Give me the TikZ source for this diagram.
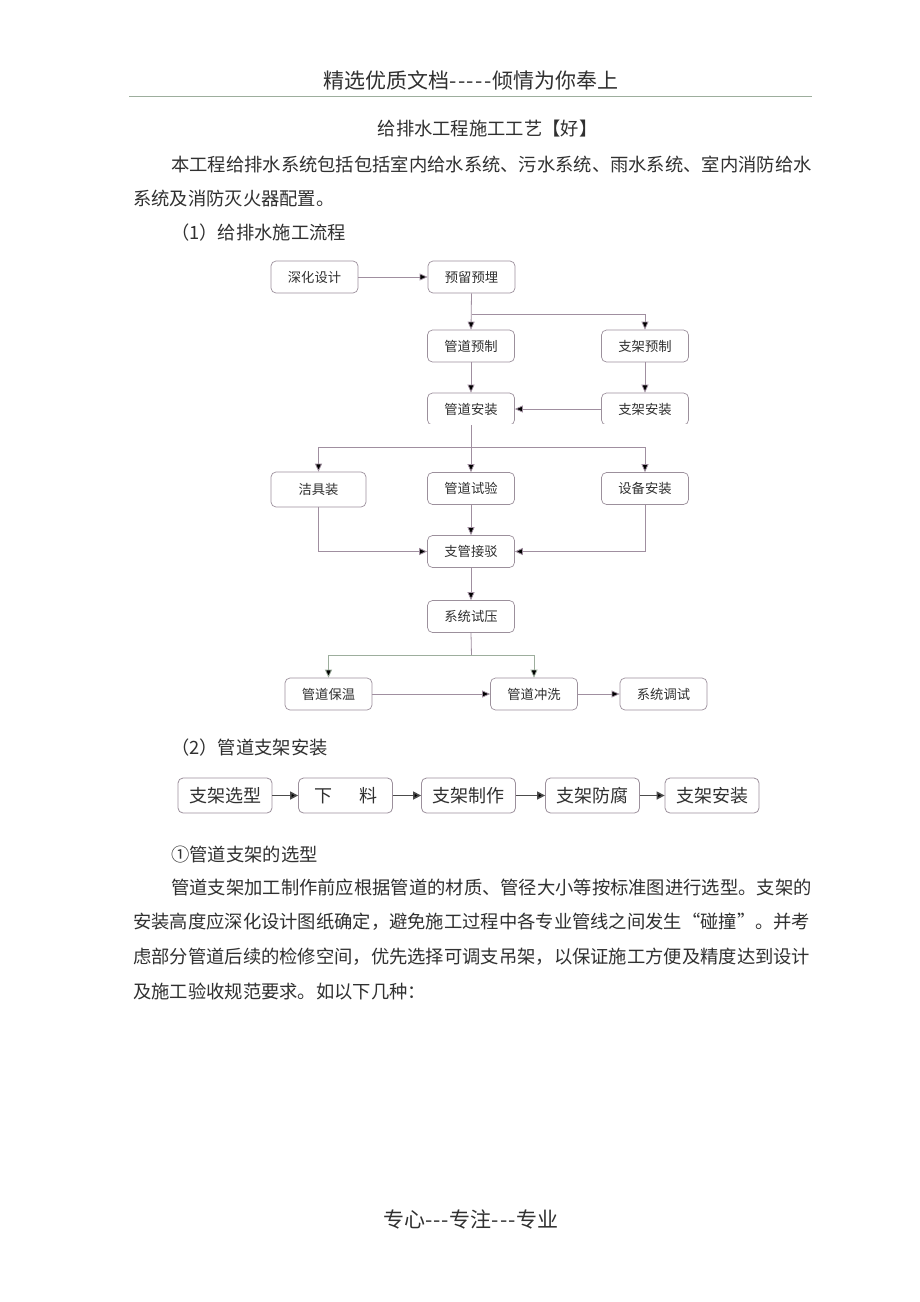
\documentclass[tikz,border=0pt]{standalone}
\usepackage{fontspec}
\setmainfont{Noto Sans CJK SC}
\usetikzlibrary{arrows.meta,calc}
\definecolor{boxc}{HTML}{9C909C}
\definecolor{linec}{HTML}{A08FA0}
\definecolor{greenc}{HTML}{9DAE9D}
\definecolor{txt}{HTML}{303030}
\newcommand{\fsz}[1]{\fontsize{#1pt}{#1pt}\selectfont}
\tikzset{
  x=1pt,y=-1pt,
  boxa/.style={draw=boxc,line width=0.7pt,rounded corners=5pt,inner sep=0pt,minimum width=87pt,minimum height=32pt,text=txt,font=\fsz{13.3}},
  boxb/.style={draw=boxc,line width=0.8pt,rounded corners=5pt,inner sep=0pt,minimum width=94pt,minimum height=35pt,text=txt,font=\fsz{18}},
  link/.style={draw=linec,line width=0.8pt},
  flow/.style={link,-{Triangle[length=8pt,width=7pt,fill=black]}},
  flowb/.style={draw=black!70,line width=1.5pt,-{Triangle[length=8pt,width=8pt,fill=black]}},
  para/.style={anchor=base west,inner sep=0pt,text=txt,font=\fsz{18.3}},
  ctr/.style={anchor=base,inner sep=0pt,text=txt},
}
\begin{document}
\begin{tikzpicture}
\useasboundingbox[fill=white] (0,0) rectangle (920,1302);
% page text
\node[ctr,font=\fsz{21}] (hd) at (471,88) {精选优质文档-\kern1.5pt-\kern1.5pt-\kern1.5pt-\kern1.5pt-\kern1pt倾情为你奉上};
\coordinate (rl) at (129,96.5);
\coordinate (rr) at (812,96.5);
\draw[draw=greenc,line width=0.7pt] (rl) -- (rr);
\node[ctr,font=\fsz{18.3}] (ti) at (487.5,135) {给排水工程施工工艺【好】};
\node[para] (p1) at (171,171) {本工程给排水系统包括包括室内给水系统、污水系统、雨水系统、室内消防给水};
\node[para] (p2) at (133,205) {系统及消防灭火器配置。};
\node[para] (p3) at (171,239) {（1）给排水施工流程};
\node[para] (p4) at (171,754) {（2）管道支架安装};
\node[para] (p5) at (171,861) {①管道支架的选型};
\node[para] (p6) at (171,894) {管道支架加工制作前应根据管道的材质、管径大小等按标准图进行选型。支架的};
\node[para] (p7) at (133,928) {安装高度应深化设计图纸确定，避免施工过程中各专业管线之间发生“碰撞”。并考};
\node[para] (p8) at (133,963) {虑部分管道后续的检修空间，优先选择可调支吊架，以保证施工方便及精度达到设计};
\node[para] (p9) at (133,998) {及施工验收规范要求。如以下几种：};
\node[ctr,font=\fsz{21}] (ft) at (471,1227) {专心-\kern1pt-\kern1pt-\kern1pt专注-\kern1pt-\kern1pt-\kern1pt专业};
% flow chart 1
\node[boxa] (sh) at (314.5,277) {深化设计};
\node[boxa] (yl) at (471.5,277) {预留预埋};
\node[boxa] (gy) at (471,346) {管道预制};
\node[boxa] (zy) at (645,346) {支架预制};
\node[boxa] (ga) at (471,409) {管道安装};
\node[boxa] (za) at (645,409) {支架安装};
\node[boxa,minimum width=95pt,minimum height=35pt] (jj) at (318.5,489.5) {洁具装};
\node[boxa] (gs) at (471,488.5) {管道试验};
\node[boxa] (sb) at (645,488.5) {设备安装};
\node[boxa] (zg) at (471,551.5) {支管接驳};
\node[boxa] (xt) at (471,616.5) {系统试压};
\node[boxa] (gb) at (328.5,694) {管道保温};
\node[boxa] (gc) at (534,694) {管道冲洗};
\node[boxa] (xd) at (663.5,694) {系统调试};
% open lower edges
\fill[white] ($(ga.south west)+(-1,-1)$) rectangle ($(ga.south east)+(1,1)$);
\fill[white] ($(za.south west)+(-1,-1)$) rectangle ($(za.south east)+(1,1)$);
% branch points
\coordinate (b1) at (471.5,314);
\coordinate (b2) at (471.5,447);
\coordinate (b3) at (471.5,655.5);
\draw[flow] (sh) -- (yl);
\draw[flow] (yl.south) -- (gy.north);
\draw[flow] (b1) -| (zy.north);
\draw[flow] (gy) -- (ga);
\draw[flow] (zy) -- (za);
\draw[flow] (za) -- (ga);
\draw[flow] (ga.south) -- (gs.north);
\draw[flow] (b2) -| (jj.north);
\draw[flow] (b2) -| (sb.north);
\draw[flow] (gs) -- (zg);
\draw[flow] (jj.south) |- (zg.west);
\draw[flow] (sb.south) |- (zg.east);
\draw[flow] (zg) -- (xt);
\draw[link] (xt.south) -- (b3);
\draw[flow,draw=greenc] (b3) -| (gb.north);
\draw[flow,draw=greenc] (b3) -| (gc.north);
\draw[flow] (gb) -- (gc);
\draw[flow] (gc) -- (xd);
% flow chart 2
\node[boxb] (a1) at (225,795.5) {支架选型};
\node[boxb] (a2) at (345.5,795.5) {下\hspace{27pt}料};
\node[boxb] (a3) at (468.5,795.5) {支架制作};
\node[boxb] (a4) at (592.5,795.5) {支架防腐};
\node[boxb] (a5) at (712,795.5) {支架安装};
\draw[flowb] (a1) -- (a2);
\draw[flowb] (a2) -- (a3);
\draw[flowb] (a3) -- (a4);
\draw[flowb] (a4) -- (a5);
\end{tikzpicture}
\end{document}
